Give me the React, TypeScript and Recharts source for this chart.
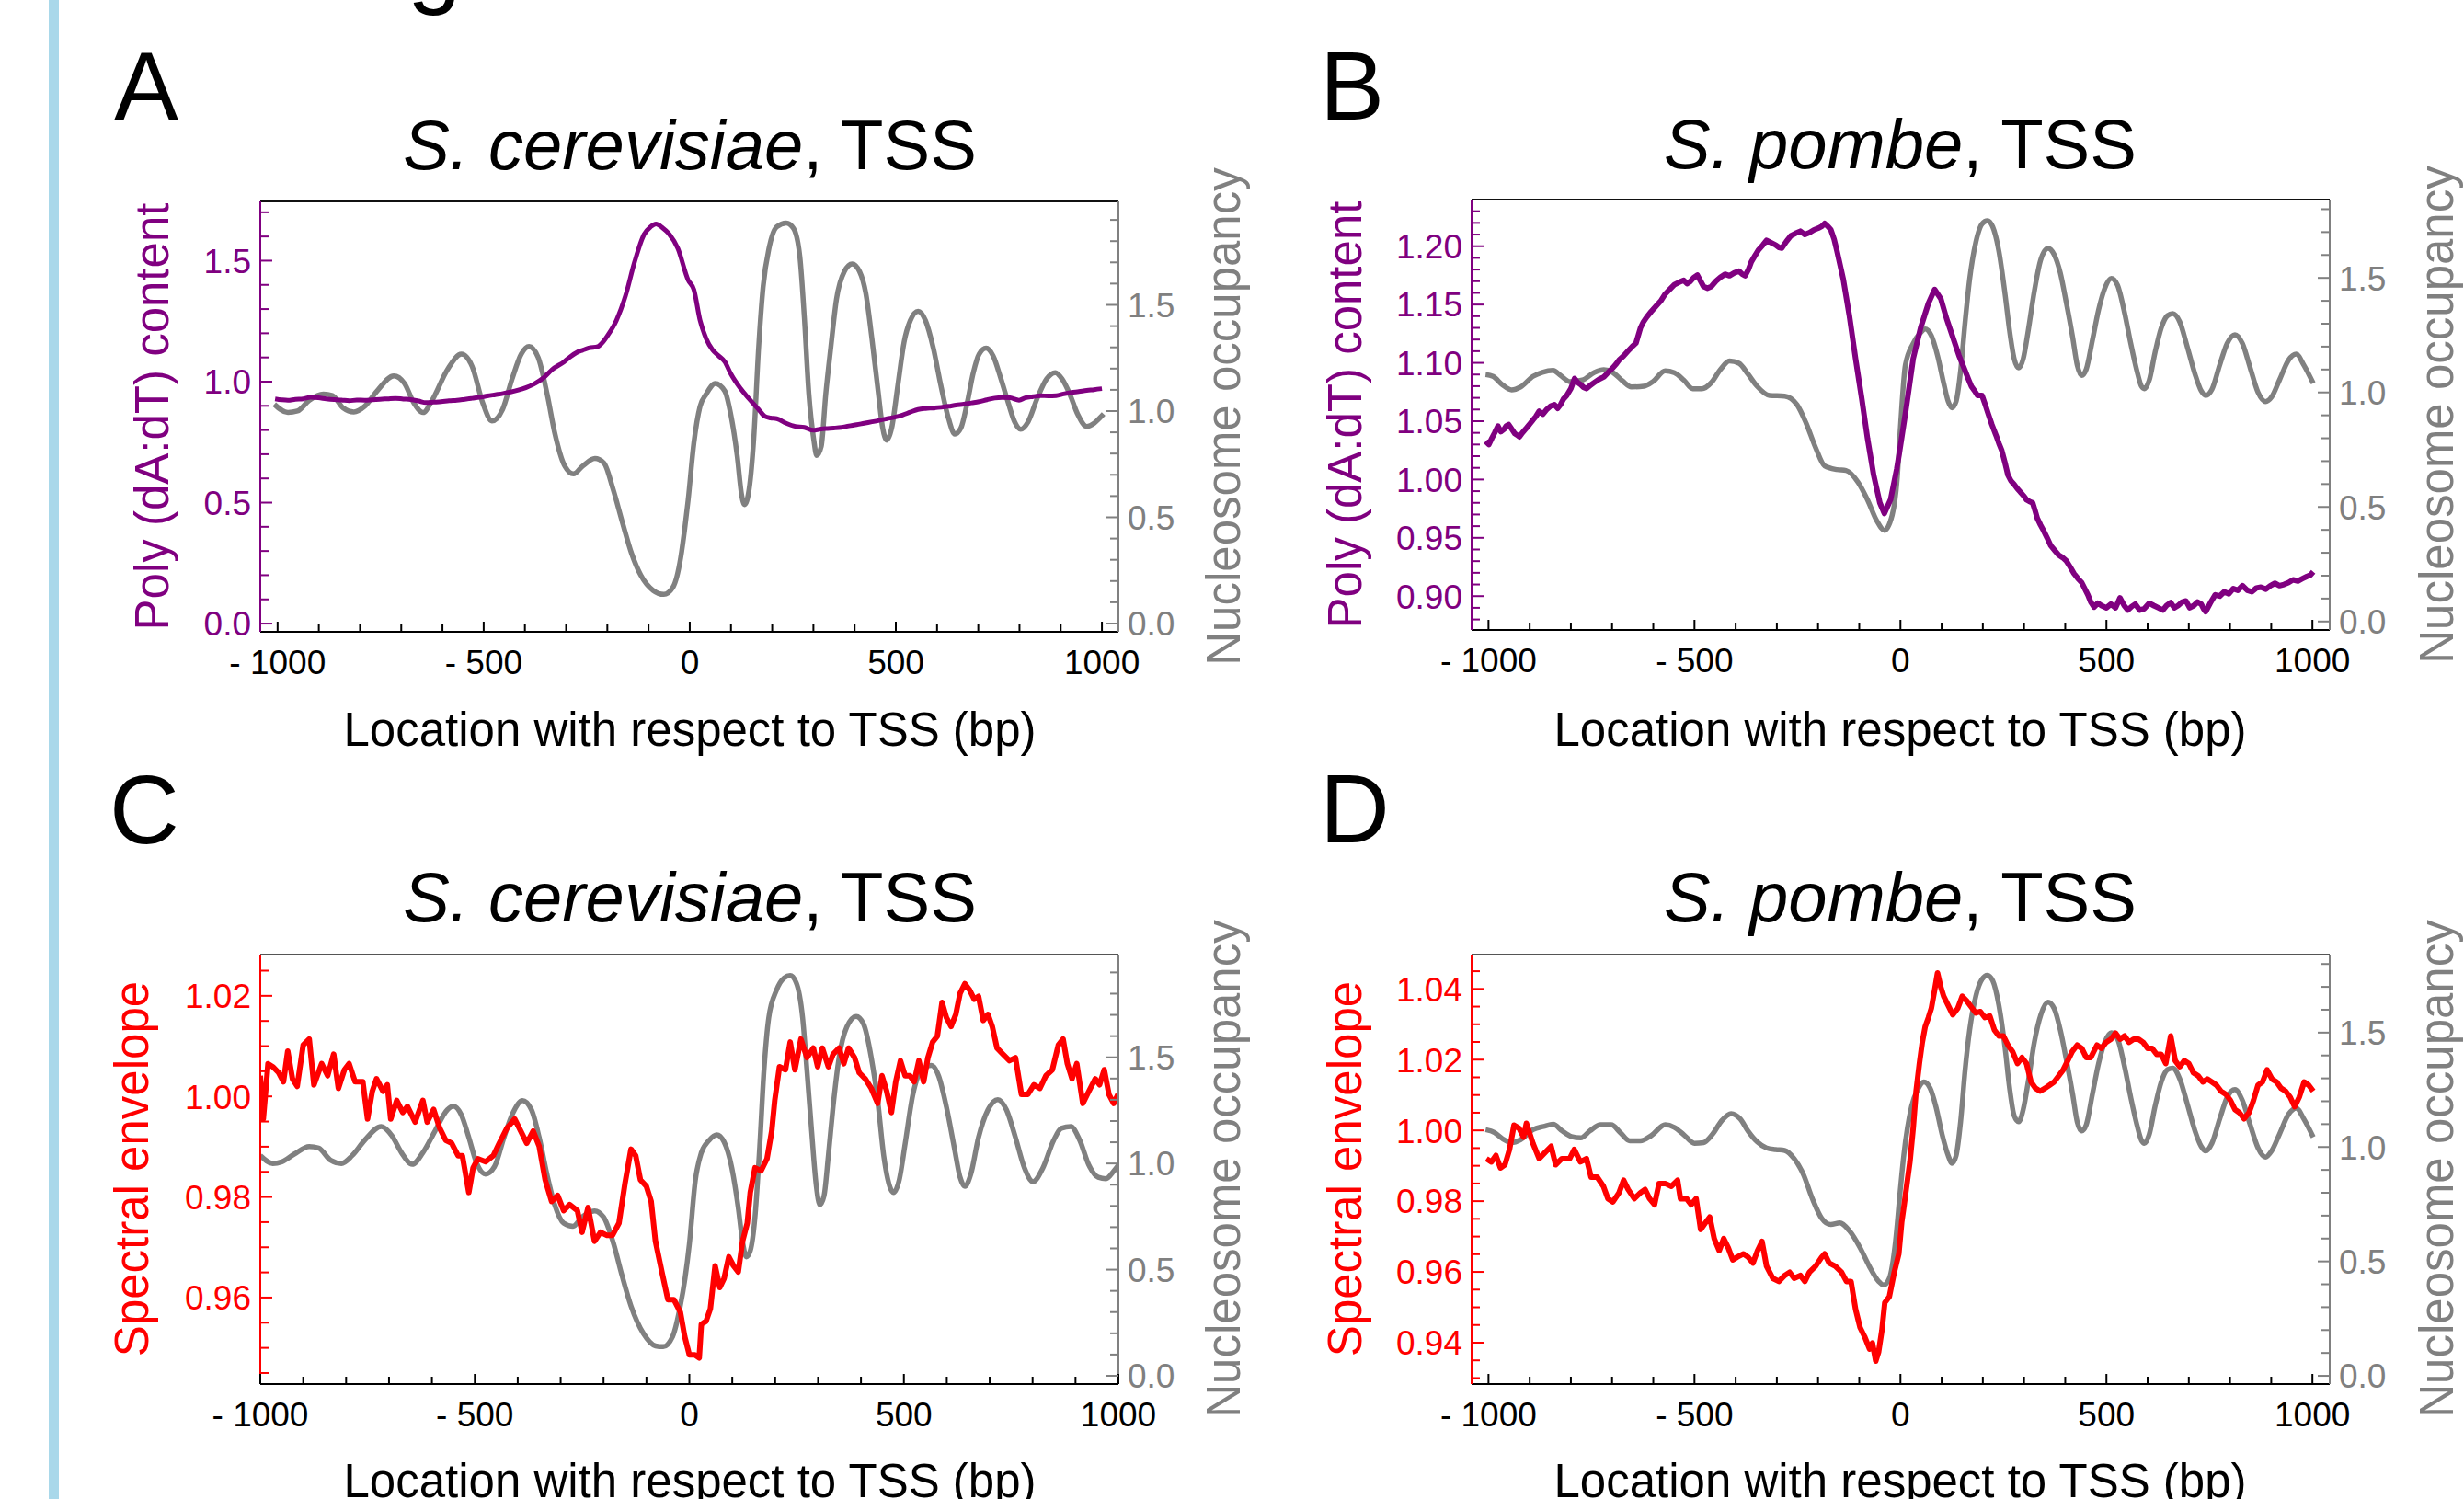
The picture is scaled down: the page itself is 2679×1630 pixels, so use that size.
import React from 'react';
import { LineChart, Line, XAxis, YAxis, ReferenceLine } from 'recharts';

const FONT = '"Liberation Sans", Arial, Helvetica, sans-serif';
const PURPLE = '#800080';
const RED = '#ff0000';
const GREY = '#808080';

// ---------- tick values / labels ----------
const xTicks = [-1000, -900, -800, -700, -600, -500, -400, -300, -200, -100, 0, 100, 200, 300, 400, 500, 600, 700, 800, 900, 1000];
const xLabelVals = [-1000, -500, 0, 500, 1000];
const xLabels = ['- 1000', '- 500', '0', '500', '1000'];

const occTicks19 = [0, 0.1, 0.2, 0.3, 0.4, 0.5, 0.6, 0.7, 0.8, 0.9, 1.0, 1.1, 1.2, 1.3, 1.4, 1.5, 1.6, 1.7, 1.8, 1.9];
const occTicks18 = [0, 0.1, 0.2, 0.3, 0.4, 0.5, 0.6, 0.7, 0.8, 0.9, 1.0, 1.1, 1.2, 1.3, 1.4, 1.5, 1.6, 1.7, 1.8];
const occLabelVals = [0, 0.5, 1.0, 1.5];
const occLabels = ['0.0', '0.5', '1.0', '1.5'];

const aLeftTicks = [0, 0.1, 0.2, 0.3, 0.4, 0.5, 0.6, 0.7, 0.8, 0.9, 1.0, 1.1, 1.2, 1.3, 1.4, 1.5, 1.6, 1.7];
const aLeftLabelVals = [0, 0.5, 1.0, 1.5];
const aLeftLabels = ['0.0', '0.5', '1.0', '1.5'];

const bLeftTicks = [0.88, 0.89, 0.9, 0.91, 0.92, 0.93, 0.94, 0.95, 0.96, 0.97, 0.98, 0.99, 1.0, 1.01, 1.02, 1.03, 1.04, 1.05, 1.06, 1.07, 1.08, 1.09, 1.1, 1.11, 1.12, 1.13, 1.14, 1.15, 1.16, 1.17, 1.18, 1.19, 1.2, 1.21, 1.22, 1.23];
const bLeftLabelVals = [0.9, 0.95, 1.0, 1.05, 1.1, 1.15, 1.2];
const bLeftLabels = ['0.90', '0.95', '1.00', '1.05', '1.10', '1.15', '1.20'];

const cLeftTicks = [0.945, 0.95, 0.955, 0.96, 0.965, 0.97, 0.975, 0.98, 0.985, 0.99, 0.995, 1.0, 1.005, 1.01, 1.015, 1.02, 1.025];
const cLeftLabelVals = [0.96, 0.98, 1.0, 1.02];
const cLeftLabels = ['0.96', '0.98', '1.00', '1.02'];

const dLeftTicks = [0.93, 0.935, 0.94, 0.945, 0.95, 0.955, 0.96, 0.965, 0.97, 0.975, 0.98, 0.985, 0.99, 0.995, 1.0, 1.005, 1.01, 1.015, 1.02, 1.025, 1.03, 1.035, 1.04, 1.045];
const dLeftLabelVals = [0.94, 0.96, 0.98, 1.0, 1.02, 1.04];
const dLeftLabels = ['0.94', '0.96', '0.98', '1.00', '1.02', '1.04'];

// ---------- series: [bp, value] ----------
const aNuc: [number, number][] = [[-1008,1.032],[-975,0.993],[-952,1.000],[-923,1.051],[-889,1.080],[-867,1.073],[-841,1.015],[-815,0.996],[-789,1.022],[-759,1.094],[-718,1.166],[-692,1.130],[-669,1.037],[-647,0.993],[-625,1.051],[-588,1.195],[-554,1.268],[-528,1.210],[-502,1.037],[-480,0.953],[-454,1.008],[-431,1.152],[-409,1.268],[-390,1.304],[-368,1.253],[-346,1.080],[-327,0.892],[-305,0.748],[-282,0.704],[-260,0.741],[-230,0.777],[-208,0.755],[-186,0.632],[-163,0.473],[-141,0.329],[-119,0.228],[-89,0.156],[-63,0.137],[-41,0.170],[-22,0.310],[-12,0.450],[-4,0.580],[10,0.850],[25,1.022],[40,1.080],[62,1.130],[85,1.094],[100,0.979],[115,0.791],[126,0.603],[133,0.560],[144,0.632],[155,0.863],[167,1.296],[178,1.585],[193,1.773],[211,1.867],[234,1.885],[252,1.859],[267,1.729],[278,1.441],[289,1.080],[301,0.863],[308,0.791],[319,0.834],[330,1.080],[342,1.296],[356,1.527],[375,1.657],[394,1.693],[412,1.657],[427,1.556],[442,1.340],[457,1.094],[468,0.921],[478,0.863],[490,0.921],[505,1.123],[520,1.325],[535,1.426],[554,1.470],[572,1.426],[591,1.296],[609,1.123],[628,0.964],[643,0.892],[658,0.921],[673,1.037],[688,1.181],[702,1.268],[719,1.296],[736,1.260],[755,1.152],[773,1.037],[788,0.950],[803,0.914],[821,0.950],[844,1.065],[866,1.152],[887,1.181],[903,1.152],[922,1.080],[941,0.986],[963,0.928],[981,0.943],[993,0.964],[1004,0.986]];

const aPoly: [number, number][] = [[-1006,0.929],[-990,0.925],[-975,0.923],[-957,0.927],[-938,0.929],[-920,0.935],[-901,0.933],[-882,0.929],[-863,0.926],[-845,0.924],[-826,0.921],[-808,0.924],[-789,0.923],[-770,0.925],[-752,0.927],[-733,0.929],[-714,0.931],[-695,0.928],[-677,0.926],[-658,0.920],[-640,0.913],[-621,0.915],[-603,0.917],[-584,0.921],[-565,0.923],[-546,0.927],[-528,0.931],[-510,0.935],[-491,0.941],[-472,0.946],[-453,0.951],[-435,0.957],[-416,0.965],[-398,0.975],[-379,0.989],[-356,1.014],[-334,1.050],[-305,1.082],[-290,1.103],[-275,1.120],[-260,1.130],[-245,1.139],[-223,1.145],[-210,1.165],[-200,1.189],[-178,1.253],[-156,1.354],[-134,1.494],[-111,1.608],[-95,1.640],[-82,1.652],[-66,1.636],[-52,1.614],[-29,1.551],[-4,1.420],[10,1.380],[25,1.253],[40,1.177],[55,1.132],[70,1.107],[85,1.082],[100,1.031],[122,0.974],[144,0.929],[167,0.885],[182,0.857],[196,0.850],[211,0.847],[234,0.828],[256,0.815],[278,0.811],[300,0.799],[315,0.803],[330,0.806],[349,0.808],[368,0.811],[386,0.817],[405,0.822],[423,0.828],[442,0.834],[460,0.840],[479,0.847],[497,0.853],[516,0.862],[535,0.874],[554,0.885],[572,0.889],[591,0.891],[610,0.894],[628,0.898],[646,0.903],[665,0.907],[684,0.912],[702,0.917],[721,0.925],[740,0.932],[758,0.934],[777,0.933],[799,0.923],[814,0.933],[833,0.938],[851,0.942],[870,0.941],[889,0.942],[907,0.949],[926,0.955],[944,0.959],[963,0.964],[981,0.967],[1000,0.971]];

const bNuc: [number, number][] = [[-1007,1.078],[-989,1.070],[-966,1.033],[-944,1.011],[-922,1.024],[-892,1.070],[-869,1.088],[-843,1.096],[-825,1.074],[-802,1.047],[-772,1.054],[-743,1.087],[-720,1.099],[-698,1.087],[-675,1.051],[-653,1.024],[-623,1.027],[-601,1.047],[-571,1.094],[-549,1.086],[-526,1.054],[-504,1.016],[-482,1.016],[-459,1.043],[-437,1.100],[-415,1.137],[-392,1.127],[-370,1.080],[-348,1.027],[-318,0.987],[-281,0.984],[-251,0.946],[-229,0.866],[-206,0.759],[-184,0.679],[-154,0.663],[-132,0.659],[-102,0.605],[-80,0.531],[-57,0.438],[-39,0.398],[-20,0.465],[-8,0.620],[0,0.850],[12,1.120],[31,1.214],[49,1.261],[60,1.277],[75,1.248],[90,1.161],[105,1.040],[116,0.960],[125,0.933],[135,0.960],[146,1.094],[157,1.308],[168,1.495],[183,1.656],[198,1.736],[211,1.750],[224,1.723],[239,1.616],[254,1.428],[265,1.268],[276,1.147],[287,1.107],[298,1.147],[310,1.268],[325,1.442],[340,1.576],[358,1.629],[373,1.602],[388,1.522],[403,1.388],[418,1.241],[429,1.120],[440,1.074],[451,1.101],[466,1.228],[481,1.361],[496,1.455],[512,1.498],[527,1.468],[544,1.348],[559,1.214],[574,1.094],[585,1.027],[592,1.016],[604,1.054],[618,1.174],[633,1.281],[648,1.335],[661,1.344],[678,1.308],[696,1.201],[715,1.080],[730,1.007],[741,0.987],[756,1.013],[775,1.120],[793,1.214],[812,1.252],[830,1.214],[849,1.107],[868,1.000],[886,0.960],[901,0.980],[920,1.054],[942,1.141],[961,1.167],[979,1.120],[1002,1.040]];

const bPoly: [number, number][] = [[-1007,1.0327],[-999,1.0300],[-992,1.0353],[-985,1.0400],[-977,1.0458],[-970,1.0410],[-962,1.0432],[-957,1.0460],[-951,1.0471],[-943,1.0430],[-936,1.0393],[-930,1.0380],[-925,1.0366],[-918,1.0400],[-910,1.0432],[-901,1.0470],[-892,1.0511],[-885,1.0540],[-877,1.0585],[-868,1.0560],[-858,1.0603],[-849,1.0630],[-840,1.0642],[-832,1.0610],[-825,1.0642],[-818,1.0690],[-810,1.0721],[-800,1.0780],[-791,1.0866],[-783,1.0830],[-776,1.0813],[-769,1.0790],[-762,1.0779],[-752,1.0810],[-743,1.0832],[-731,1.0860],[-720,1.0879],[-709,1.0920],[-698,1.0958],[-690,1.0990],[-683,1.1024],[-672,1.1060],[-661,1.1103],[-651,1.1140],[-642,1.1169],[-636,1.1240],[-631,1.1300],[-624,1.1350],[-616,1.1392],[-605,1.1440],[-594,1.1484],[-582,1.1530],[-571,1.1590],[-560,1.1630],[-549,1.1669],[-538,1.1690],[-526,1.1708],[-518,1.1680],[-511,1.1695],[-502,1.1730],[-493,1.1753],[-485,1.1700],[-478,1.1655],[-468,1.1640],[-459,1.1655],[-448,1.1700],[-437,1.1734],[-426,1.1760],[-415,1.1747],[-404,1.1770],[-392,1.1787],[-384,1.1760],[-377,1.1747],[-369,1.1800],[-362,1.1866],[-353,1.1920],[-344,1.1971],[-334,1.2010],[-325,1.2050],[-314,1.2030],[-303,1.2011],[-295,1.1990],[-288,1.1984],[-277,1.2040],[-266,1.2089],[-255,1.2110],[-243,1.2129],[-232,1.2100],[-221,1.2116],[-210,1.2140],[-199,1.2155],[-191,1.2170],[-184,1.2195],[-176,1.2170],[-169,1.2142],[-161,1.2060],[-154,1.1958],[-139,1.1721],[-124,1.1405],[-109,1.1037],[-94,1.0695],[-80,1.0353],[-65,1.0037],[-50,0.9800],[-39,0.9709],[-24,0.9827],[-9,1.0090],[-3,1.0220],[12,1.0564],[31,1.1037],[49,1.1300],[68,1.1511],[83,1.1629],[98,1.1550],[112,1.1379],[127,1.1221],[142,1.1063],[157,1.0932],[165,1.0860],[172,1.0800],[180,1.0760],[187,1.0721],[198,1.0721],[206,1.0640],[213,1.0564],[222,1.0470],[232,1.0379],[239,1.0310],[246,1.0248],[254,1.0140],[261,1.0037],[268,0.9990],[276,0.9958],[284,0.9920],[291,0.9893],[299,0.9860],[306,0.9827],[314,0.9810],[321,0.9800],[327,0.9730],[332,0.9669],[340,0.9610],[347,0.9564],[356,0.9500],[365,0.9432],[375,0.9390],[384,0.9353],[394,0.9330],[403,0.9301],[412,0.9250],[421,0.9195],[431,0.9150],[440,0.9116],[448,0.9060],[455,0.9011],[462,0.8950],[470,0.8906],[479,0.8940],[488,0.8919],[500,0.8900],[511,0.8932],[522,0.8900],[533,0.8985],[543,0.8920],[552,0.8880],[561,0.8910],[570,0.8932],[581,0.8880],[592,0.8893],[604,0.8940],[615,0.8919],[626,0.8900],[637,0.8880],[646,0.8920],[656,0.8945],[665,0.8900],[674,0.8919],[684,0.8950],[693,0.8959],[702,0.8900],[712,0.8919],[721,0.8950],[730,0.8932],[736,0.8890],[741,0.8867],[752,0.8940],[764,0.9011],[775,0.9000],[786,0.9037],[797,0.9020],[808,0.9064],[819,0.9050],[830,0.9090],[842,0.9050],[853,0.9037],[864,0.9070],[875,0.9077],[887,0.9060],[898,0.9090],[909,0.9110],[920,0.9090],[931,0.9100],[942,0.9116],[953,0.9140],[965,0.9130],[976,0.9150],[987,0.9169],[995,0.9180],[1002,0.9209]];

const cNuc: [number, number][] = [[-1000,1.037],[-971,1.000],[-950,1.008],[-921,1.044],[-886,1.080],[-864,1.073],[-836,1.015],[-811,1.000],[-786,1.037],[-757,1.109],[-718,1.174],[-693,1.130],[-671,1.051],[-646,0.996],[-621,1.051],[-593,1.152],[-564,1.253],[-550,1.270],[-532,1.231],[-514,1.123],[-497,1.008],[-475,0.950],[-454,0.986],[-432,1.123],[-411,1.239],[-389,1.296],[-368,1.253],[-350,1.123],[-332,0.950],[-314,0.806],[-293,0.719],[-271,0.704],[-250,0.748],[-221,0.777],[-200,0.748],[-178,0.632],[-157,0.473],[-136,0.329],[-107,0.199],[-79,0.141],[-61,0.137],[-39,0.185],[-21,0.330],[-10,0.460],[0,0.620],[14,0.921],[28,1.051],[46,1.109],[64,1.135],[81,1.101],[99,0.979],[114,0.791],[124,0.632],[133,0.560],[142,0.589],[153,0.748],[164,1.080],[174,1.441],[185,1.686],[203,1.816],[221,1.874],[235,1.885],[249,1.852],[264,1.686],[274,1.441],[285,1.152],[296,0.892],[304,0.806],[314,0.849],[324,1.037],[335,1.268],[349,1.499],[367,1.643],[389,1.693],[406,1.657],[424,1.499],[439,1.296],[453,1.037],[467,0.892],[476,0.863],[489,0.921],[503,1.094],[521,1.325],[542,1.441],[564,1.462],[581,1.412],[599,1.268],[617,1.080],[631,0.935],[642,0.892],[656,0.950],[674,1.123],[696,1.253],[719,1.301],[739,1.253],[760,1.123],[781,0.979],[801,0.914],[824,0.979],[849,1.109],[867,1.166],[889,1.174],[910,1.109],[931,0.993],[953,0.935],[971,0.928],[989,0.964],[1000,0.993]];

const cSpec: [number, number][] = [[-1000,1.0041],[-993,0.9955],[-982,1.0065],[-971,1.0059],[-957,1.0047],[-946,1.0029],[-936,1.0090],[-925,1.0035],[-914,1.0020],[-900,1.0102],[-886,1.0114],[-875,1.0023],[-857,1.0065],[-843,1.0041],[-829,1.0084],[-818,1.0016],[-804,1.0053],[-793,1.0065],[-779,1.0029],[-761,1.0029],[-750,0.9955],[-739,1.0010],[-729,1.0035],[-714,1.0010],[-704,1.0023],[-696,0.9955],[-682,0.9992],[-668,0.9968],[-657,0.9980],[-639,0.9949],[-621,0.9992],[-611,0.9949],[-596,0.9974],[-582,0.9937],[-568,0.9913],[-554,0.9907],[-539,0.9882],[-529,0.9882],[-514,0.9809],[-504,0.9858],[-493,0.9876],[-475,0.9870],[-457,0.9882],[-443,0.9907],[-425,0.9937],[-407,0.9955],[-393,0.9931],[-379,0.9907],[-364,0.9931],[-350,0.9901],[-336,0.9834],[-321,0.9791],[-307,0.9803],[-293,0.9773],[-279,0.9785],[-261,0.9773],[-250,0.9730],[-236,0.9779],[-221,0.9712],[-207,0.9730],[-193,0.9724],[-179,0.9724],[-164,0.9748],[-150,0.9827],[-136,0.9895],[-125,0.9882],[-114,0.9834],[-100,0.9821],[-89,0.9791],[-79,0.9712],[-64,0.9651],[-50,0.9596],[-36,0.9596],[-21,0.9571],[-11,0.9523],[0,0.9486],[13,0.9486],[23,0.9480],[28,0.9547],[39,0.9553],[49,0.9578],[60,0.9663],[71,0.9620],[81,0.9638],[92,0.9681],[103,0.9663],[114,0.9651],[124,0.9712],[135,0.9748],[142,0.9809],[153,0.9858],[167,0.9852],[181,0.9876],[192,0.9931],[199,0.9992],[210,1.0059],[224,1.0053],[235,1.0108],[246,1.0053],[260,1.0114],[274,1.0077],[289,1.0096],[299,1.0059],[310,1.0096],[324,1.0059],[335,1.0084],[349,1.0096],[360,1.0065],[371,1.0096],[385,1.0077],[396,1.0047],[410,1.0035],[424,1.0016],[439,0.9986],[449,1.0041],[460,1.0010],[471,0.9968],[481,1.0029],[492,1.0071],[503,1.0041],[514,1.0041],[524,1.0029],[535,1.0071],[546,1.0029],[556,1.0077],[567,1.0108],[578,1.0120],[589,1.0187],[599,1.0157],[610,1.0139],[621,1.0163],[631,1.0205],[642,1.0224],[653,1.0212],[664,1.0193],[674,1.0199],[685,1.0151],[696,1.0163],[706,1.0139],[717,1.0096],[731,1.0084],[746,1.0071],[760,1.0077],[774,1.0004],[789,1.0004],[803,1.0023],[817,1.0016],[831,1.0041],[846,1.0053],[860,1.0102],[871,1.0114],[881,1.0065],[892,1.0035],[903,1.0065],[917,0.9986],[931,1.0010],[946,1.0035],[956,1.0023],[967,1.0053],[978,1.0004],[989,0.9986],[999,1.0004]];

const dNuc: [number, number][] = [[-1007,1.076],[-985,1.063],[-966,1.036],[-944,1.019],[-922,1.032],[-892,1.076],[-866,1.090],[-843,1.099],[-821,1.070],[-799,1.046],[-776,1.040],[-754,1.070],[-728,1.097],[-702,1.097],[-680,1.063],[-657,1.027],[-631,1.027],[-605,1.050],[-571,1.097],[-549,1.086],[-526,1.054],[-500,1.016],[-478,1.019],[-456,1.056],[-433,1.117],[-411,1.146],[-389,1.123],[-370,1.070],[-348,1.023],[-325,0.996],[-303,0.989],[-281,0.985],[-258,0.949],[-236,0.882],[-214,0.775],[-191,0.688],[-169,0.661],[-147,0.668],[-124,0.634],[-98,0.560],[-76,0.480],[-53,0.413],[-41,0.397],[-27,0.426],[-12,0.587],[-1,0.800],[8,0.962],[27,1.177],[42,1.251],[57,1.284],[72,1.257],[86,1.177],[101,1.056],[116,0.962],[125,0.929],[135,0.962],[146,1.110],[157,1.338],[168,1.512],[183,1.660],[198,1.733],[211,1.751],[224,1.727],[239,1.619],[254,1.432],[265,1.257],[276,1.137],[287,1.110],[298,1.164],[310,1.284],[325,1.458],[341,1.579],[358,1.633],[373,1.606],[388,1.512],[403,1.378],[418,1.231],[429,1.110],[440,1.070],[451,1.097],[466,1.231],[481,1.365],[496,1.458],[512,1.499],[527,1.472],[544,1.351],[559,1.217],[574,1.097],[585,1.029],[592,1.016],[604,1.056],[618,1.177],[633,1.284],[648,1.338],[661,1.345],[678,1.298],[696,1.190],[715,1.070],[730,1.003],[741,0.983],[756,1.016],[775,1.123],[793,1.217],[812,1.251],[830,1.204],[849,1.097],[868,0.996],[886,0.956],[901,0.983],[920,1.056],[942,1.143],[961,1.170],[979,1.123],[1002,1.043]];

const dSpec: [number, number][] = [[-1005,0.9920],[-993,0.9911],[-982,0.9929],[-971,0.9894],[-960,0.9903],[-949,0.9946],[-938,1.0015],[-926,1.0006],[-915,0.9981],[-908,1.0020],[-892,0.9963],[-877,0.9920],[-863,0.9937],[-848,0.9955],[-837,0.9903],[-822,0.9920],[-803,0.9920],[-792,0.9946],[-777,0.9911],[-762,0.9920],[-751,0.9868],[-736,0.9868],[-721,0.9842],[-710,0.9807],[-698,0.9798],[-683,0.9824],[-672,0.9859],[-661,0.9833],[-646,0.9807],[-631,0.9824],[-620,0.9833],[-609,0.9807],[-597,0.9790],[-586,0.9850],[-571,0.9850],[-556,0.9842],[-541,0.9859],[-534,0.9807],[-519,0.9807],[-508,0.9790],[-496,0.9807],[-485,0.9720],[-474,0.9738],[-463,0.9755],[-452,0.9694],[-440,0.9660],[-429,0.9694],[-418,0.9668],[-407,0.9634],[-396,0.9642],[-381,0.9651],[-370,0.9642],[-358,0.9625],[-347,0.9660],[-336,0.9686],[-325,0.9616],[-310,0.9582],[-295,0.9573],[-281,0.9590],[-269,0.9599],[-258,0.9582],[-243,0.9590],[-232,0.9573],[-221,0.9599],[-206,0.9616],[-191,0.9642],[-184,0.9651],[-173,0.9625],[-158,0.9616],[-143,0.9599],[-131,0.9573],[-120,0.9573],[-109,0.9495],[-98,0.9443],[-87,0.9417],[-75,0.9382],[-68,0.9399],[-60,0.9348],[-53,0.9374],[-45,0.9435],[-38,0.9513],[-27,0.9530],[-15,0.9599],[-4,0.9651],[3,0.9740],[8,0.9781],[16,0.9851],[23,0.9911],[31,1.0007],[38,1.0111],[46,1.0189],[53,1.0249],[60,1.0293],[68,1.0319],[75,1.0345],[83,1.0397],[90,1.0445],[98,1.0405],[105,1.0379],[116,1.0353],[127,1.0327],[139,1.0345],[150,1.0379],[161,1.0366],[172,1.0349],[183,1.0332],[194,1.0336],[205,1.0319],[217,1.0323],[228,1.0284],[239,1.0267],[250,1.0267],[261,1.0241],[272,1.0223],[284,1.0189],[295,1.0206],[306,1.0189],[317,1.0137],[328,1.0119],[339,1.0111],[351,1.0119],[362,1.0128],[373,1.0137],[384,1.0154],[395,1.0171],[406,1.0197],[417,1.0223],[429,1.0241],[440,1.0232],[451,1.0206],[462,1.0206],[477,1.0241],[488,1.0232],[499,1.0249],[511,1.0258],[522,1.0275],[533,1.0258],[544,1.0267],[555,1.0249],[566,1.0258],[578,1.0258],[589,1.0249],[600,1.0232],[611,1.0232],[622,1.0215],[633,1.0215],[644,1.0189],[656,1.0267],[667,1.0197],[678,1.0180],[689,1.0197],[700,1.0189],[711,1.0163],[723,1.0154],[734,1.0137],[745,1.0145],[756,1.0137],[767,1.0128],[778,1.0111],[790,1.0102],[801,1.0085],[812,1.0059],[823,1.0050],[834,1.0033],[846,1.0050],[857,1.0085],[868,1.0128],[879,1.0137],[890,1.0171],[902,1.0145],[913,1.0137],[924,1.0119],[935,1.0111],[946,1.0094],[957,1.0067],[968,1.0094],[980,1.0137],[991,1.0128],[1002,1.0111]];

type Pt = { x: number; y: number };
const toPts = (arr: [number, number][]): Pt[] => arr.map(([x, y]) => ({ x, y }));

interface PanelCfg {
  plotLeft: number; plotTop: number; plotRight: number; plotBottom: number;
  xDomain: [number, number];
  leftDomain: [number, number]; leftTicks: number[]; leftLabelVals: number[]; leftLabels: string[];
  rightDomain: [number, number]; rightTicks: number[];
  nuc: Pt[]; sig: Pt[]; sigColor: string; sigType: 'linear' | 'monotone'; sigWidth: number;
  topColor: string;
}

const panels: PanelCfg[] = [
  {
    plotLeft: 283, plotTop: 219, plotRight: 1216, plotBottom: 687,
    xDomain: [-1042, 1040],
    leftDomain: [-0.034, 1.745], leftTicks: aLeftTicks, leftLabelVals: aLeftLabelVals, leftLabels: aLeftLabels,
    rightDomain: [-0.039, 1.987], rightTicks: occTicks19,
    nuc: toPts(aNuc), sig: toPts(aPoly), sigColor: PURPLE, sigType: 'monotone', sigWidth: 5, topColor: '#111',
  },
  {
    plotLeft: 1600, plotTop: 217, plotRight: 2533, plotBottom: 685,
    xDomain: [-1041, 1042],
    leftDomain: [0.871, 1.240], leftTicks: bLeftTicks, leftLabelVals: bLeftLabelVals, leftLabels: bLeftLabels,
    rightDomain: [-0.037, 1.842], rightTicks: occTicks18,
    nuc: toPts(bNuc), sig: toPts(bPoly), sigColor: PURPLE, sigType: 'linear', sigWidth: 6, topColor: '#111',
  },
  {
    plotLeft: 283, plotTop: 1038, plotRight: 1216, plotBottom: 1505,
    xDomain: [-1000, 1000],
    leftDomain: [0.9428, 1.0282], leftTicks: cLeftTicks, leftLabelVals: cLeftLabelVals, leftLabels: cLeftLabels,
    rightDomain: [-0.039, 1.984], rightTicks: occTicks19,
    nuc: toPts(cNuc), sig: toPts(cSpec), sigColor: RED, sigType: 'linear', sigWidth: 6, topColor: '#555',
  },
  {
    plotLeft: 1600, plotTop: 1038, plotRight: 2533, plotBottom: 1505,
    xDomain: [-1041, 1042],
    leftDomain: [0.9283, 1.0497], leftTicks: dLeftTicks, leftLabelVals: dLeftLabelVals, leftLabels: dLeftLabels,
    rightDomain: [-0.036, 1.841], rightTicks: occTicks18,
    nuc: toPts(dNuc), sig: toPts(dSpec), sigColor: RED, sigType: 'linear', sigWidth: 6, topColor: '#555',
  },
];

const near = (a: number, b: number) => Math.abs(a - b) < 1e-6;

function Panel({ cfg }: { cfg: PanelCfg }) {
  const WL = 250, WR = 170, MT = 20, XH = 150;
  const plotW = cfg.plotRight - cfg.plotLeft;
  const plotH = cfg.plotBottom - cfg.plotTop;
  const W = WL + plotW + WR;
  const H = MT + plotH + XH;
  const axisY = MT + plotH;
  const xR = WL + plotW;

  const XTick = (p: any) => {
    const v = p.payload.value;
    const i = xLabelVals.findIndex((t) => near(t, v));
    const major = i >= 0;
    return (
      <g>
        <line x1={p.x} x2={p.x} y1={axisY} y2={axisY - (major ? 11 : 8)} stroke="#000" strokeWidth={2} />
        {major && (
          <text x={p.x} y={axisY + 46} textAnchor="middle" fontSize={37} fontFamily={FONT} fill="#000">{xLabels[i]}</text>
        )}
      </g>
    );
  };
  const LTick = (p: any) => {
    const v = p.payload.value;
    const i = cfg.leftLabelVals.findIndex((t) => near(t, v));
    const major = i >= 0;
    return (
      <g>
        <line x1={WL} x2={WL + (major ? 13 : 9)} y1={p.y} y2={p.y} stroke={cfg.sigColor} strokeWidth={2} />
        {major && (
          <text x={WL - 10} y={p.y} dy="0.36em" textAnchor="end" fontSize={37} fontFamily={FONT} fill={cfg.sigColor}>{cfg.leftLabels[i]}</text>
        )}
      </g>
    );
  };
  const RTick = (p: any) => {
    const v = p.payload.value;
    const i = occLabelVals.findIndex((t) => near(t, v));
    const major = i >= 0;
    return (
      <g>
        <line x1={xR} x2={xR - (major ? 13 : 9)} y1={p.y} y2={p.y} stroke={GREY} strokeWidth={2} />
        {major && (
          <text x={xR + 10} y={p.y} dy="0.36em" textAnchor="start" fontSize={37} fontFamily={FONT} fill={GREY}>{occLabels[i]}</text>
        )}
      </g>
    );
  };

  return (
    <div style={{ position: 'absolute', left: cfg.plotLeft - WL, top: cfg.plotTop - MT, width: W, height: H }}>
      <LineChart width={W} height={H} margin={{ top: MT, right: 0, bottom: 0, left: 0 }}>
        <XAxis dataKey="x" type="number" domain={cfg.xDomain} allowDataOverflow ticks={xTicks} interval={0}
          tickLine={false} axisLine={{ stroke: '#000', strokeWidth: 2 }} tick={XTick} height={XH} />
        <YAxis yAxisId="left" orientation="left" type="number" width={WL} domain={cfg.leftDomain} allowDataOverflow
          ticks={cfg.leftTicks} interval={0} tickLine={false} axisLine={{ stroke: cfg.sigColor, strokeWidth: 2 }} tick={LTick} />
        <YAxis yAxisId="right" orientation="right" type="number" width={WR} domain={cfg.rightDomain} allowDataOverflow
          ticks={cfg.rightTicks} interval={0} tickLine={false} axisLine={{ stroke: GREY, strokeWidth: 2 }} tick={RTick} />
        <ReferenceLine yAxisId="left" y={cfg.leftDomain[1]} stroke={cfg.topColor} strokeWidth={2} ifOverflow="visible" />
        <Line yAxisId="right" data={cfg.nuc} dataKey="y" type="monotone" stroke={GREY} strokeWidth={5.5}
          dot={false} activeDot={false} isAnimationActive={false} />
        <Line yAxisId="left" data={cfg.sig} dataKey="y" type={cfg.sigType} stroke={cfg.sigColor} strokeWidth={cfg.sigWidth}
          strokeLinejoin="round" dot={false} activeDot={false} isAnimationActive={false} />
      </LineChart>
    </div>
  );
}

const titles = [
  { x: 750, y: 184, sp: 'S. cerevisiae' },
  { x: 2066, y: 183, sp: 'S. pombe' },
  { x: 750, y: 1002, sp: 'S. cerevisiae' },
  { x: 2066, y: 1002, sp: 'S. pombe' },
];
const letters = [
  { x: 124, y: 130, t: 'A' },
  { x: 1435, y: 130, t: 'B' },
  { x: 119, y: 917, t: 'C' },
  { x: 1435, y: 916, t: 'D' },
];
const xAxisLabels = [
  { x: 750, y: 811 }, { x: 2066, y: 811 }, { x: 750, y: 1628 }, { x: 2066, y: 1628 },
];
const leftAxisLabels = [
  { x: 183, y: 453, t: 'Poly (dA:dT) content', c: PURPLE },
  { x: 1480, y: 451, t: 'Poly (dA:dT) content', c: PURPLE },
  { x: 161, y: 1271, t: 'Spectral envelope', c: RED },
  { x: 1480, y: 1271, t: 'Spectral envelope', c: RED },
];
const rightAxisLabels = [
  { x: 1348, y: 453 }, { x: 2667, y: 451 }, { x: 1348, y: 1271 }, { x: 2667, y: 1271 },
];

export default function App() {
  return (
    <div style={{ position: 'absolute', left: 0, top: 0, width: 2679, height: 1630, overflow: 'hidden', background: '#fff' }}>
      <div style={{ position: 'absolute', left: 53, top: 0, width: 11, height: 1630, background: '#a9d8ea' }} />
      {panels.map((p, i) => <Panel key={i} cfg={p} />)}
      <svg width={2679} height={1630} style={{ position: 'absolute', left: 0, top: 0, pointerEvents: 'none' }}>
        <text x={443} y={-5} fontSize={105} fontFamily={FONT} fill="#000">g</text>
        {letters.map((l, i) => (
          <text key={'l' + i} x={l.x} y={l.y} fontSize={105} fontFamily={FONT} fill="#000">{l.t}</text>
        ))}
        {titles.map((t, i) => (
          <text key={'t' + i} x={t.x} y={t.y} fontSize={76} fontFamily={FONT} fill="#000" textAnchor="middle">
            <tspan fontStyle="italic">{t.sp}</tspan>
            <tspan>, TSS</tspan>
          </text>
        ))}
        {xAxisLabels.map((t, i) => (
          <text key={'x' + i} x={t.x} y={t.y} fontSize={51} fontFamily={FONT} fill="#000" textAnchor="middle">Location with respect to TSS (bp)</text>
        ))}
        {leftAxisLabels.map((t, i) => (
          <text key={'yl' + i} x={t.x} y={t.y} fontSize={51} fontFamily={FONT} fill={t.c} textAnchor="middle"
            transform={`rotate(-90 ${t.x} ${t.y})`}>{t.t}</text>
        ))}
        {rightAxisLabels.map((t, i) => (
          <text key={'yr' + i} x={t.x} y={t.y} fontSize={51} fontFamily={FONT} fill={GREY} textAnchor="middle"
            transform={`rotate(-90 ${t.x} ${t.y})`}>Nucleosome occupancy</text>
        ))}
      </svg>
    </div>
  );
}
